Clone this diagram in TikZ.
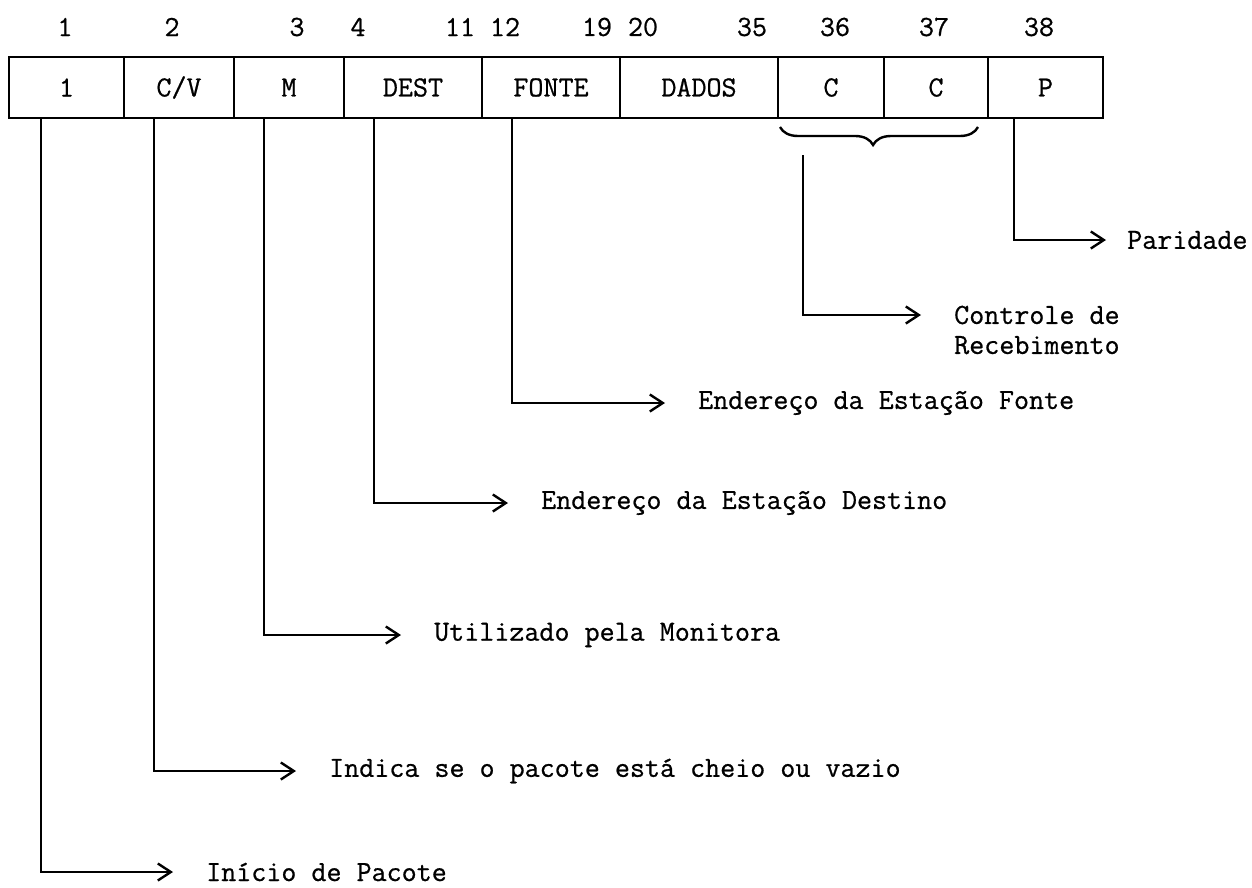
\documentclass[tikz,border=0pt]{standalone}
\usepackage{fontspec}
\setmonofont[FakeBold=0.7]{Latin Modern Mono}
\usetikzlibrary{arrows.meta}
\usetikzlibrary{decorations.pathreplacing}

\begin{document}
\begin{tikzpicture}[x=0.5pt, y=-0.5pt, line width=1.2pt,
  every node/.style={font=\ttfamily\bfseries\fontsize{14.6}{15}\selectfont, inner sep=0pt},
  field/.style={draw, minimum height=30.5pt},
  pointer/.style={-{Straight Barb[length=6.5pt, width=8.5pt]}},
  note/.style={anchor=west, inner xsep=16pt, align=left}]
  \useasboundingbox (0,0) rectangle (1252,888);

  % packet fields
  \node[field, minimum width=57.5pt] (ini)   at (66.5,87.5)  {1};
  \node[field, minimum width=55pt]   (cv)    at (179,87.5)   {C/V};
  \node[field, minimum width=55pt]   (mon)   at (289,87.5)   {M};
  \node[field, minimum width=69pt]   (dest)  at (413,87.5)   {DEST};
  \node[field, minimum width=69pt]   (fonte) at (551,87.5)   {FONTE};
  \node[field, minimum width=79pt]   (dados) at (699,87.5)   {DADOS};
  \node[field, minimum width=53pt]   (ca)    at (831,87.5)   {C};
  \node[field, minimum width=52pt]   (cb)    at (936,87.5)   {C};
  \node[field, minimum width=57.5pt] (par)   at (1045.5,87.5) {P};

  % bit positions
  \foreach \x/\n in {65/1,172/2,297/3,358/4,460/11,505/12,597/19,643/20,752/35,835/36,934/37,1039/38}
    \node (bit\n) at (\x,27) {\n};

  % brace over the two control bits
  \draw[decorate, decoration={brace, mirror, amplitude=9pt, aspect=0.47}] (780,127) -- (978,127);
  \coordinate (ctl) at (803,155);

  % explanations
  \node[note, inner xsep=10pt] (parnote) at (1106,240) {Paridade};
  \node[note] (ctlnote) at (921,330)  {Controle de\\Recebimento};
  \node[note] (fntnote) at (665,403)  {Endereço da Estação Fonte};
  \node[note] (dstnote) at (508,503)  {Endereço da Estação Destino};
  \node[note] (monnote) at (401,635)  {Utilizado pela Monitora};
  \node[note] (cvnote)  at (296,771)  {Indica se o pacote está cheio ou vazio};
  \node[note] (ininote) at (173,872)  {Início de Pacote};

  \draw[pointer] ([xshift=13.5pt]par.south west) |- (parnote.west);
  \draw[pointer] (ctl) |- ([yshift=7.5pt]ctlnote.west);
  \draw[pointer] ([xshift=15.5pt]fonte.south west) |- (fntnote.west);
  \draw[pointer] ([xshift=15.5pt]dest.south west) |- (dstnote.west);
  \draw[pointer] ([xshift=15.5pt]mon.south west) |- (monnote.west);
  \draw[pointer] ([xshift=15.5pt]cv.south west) |- (cvnote.west);
  \draw[pointer] ([xshift=16.5pt]ini.south west) |- (ininote.west);
\end{tikzpicture}
\end{document}
